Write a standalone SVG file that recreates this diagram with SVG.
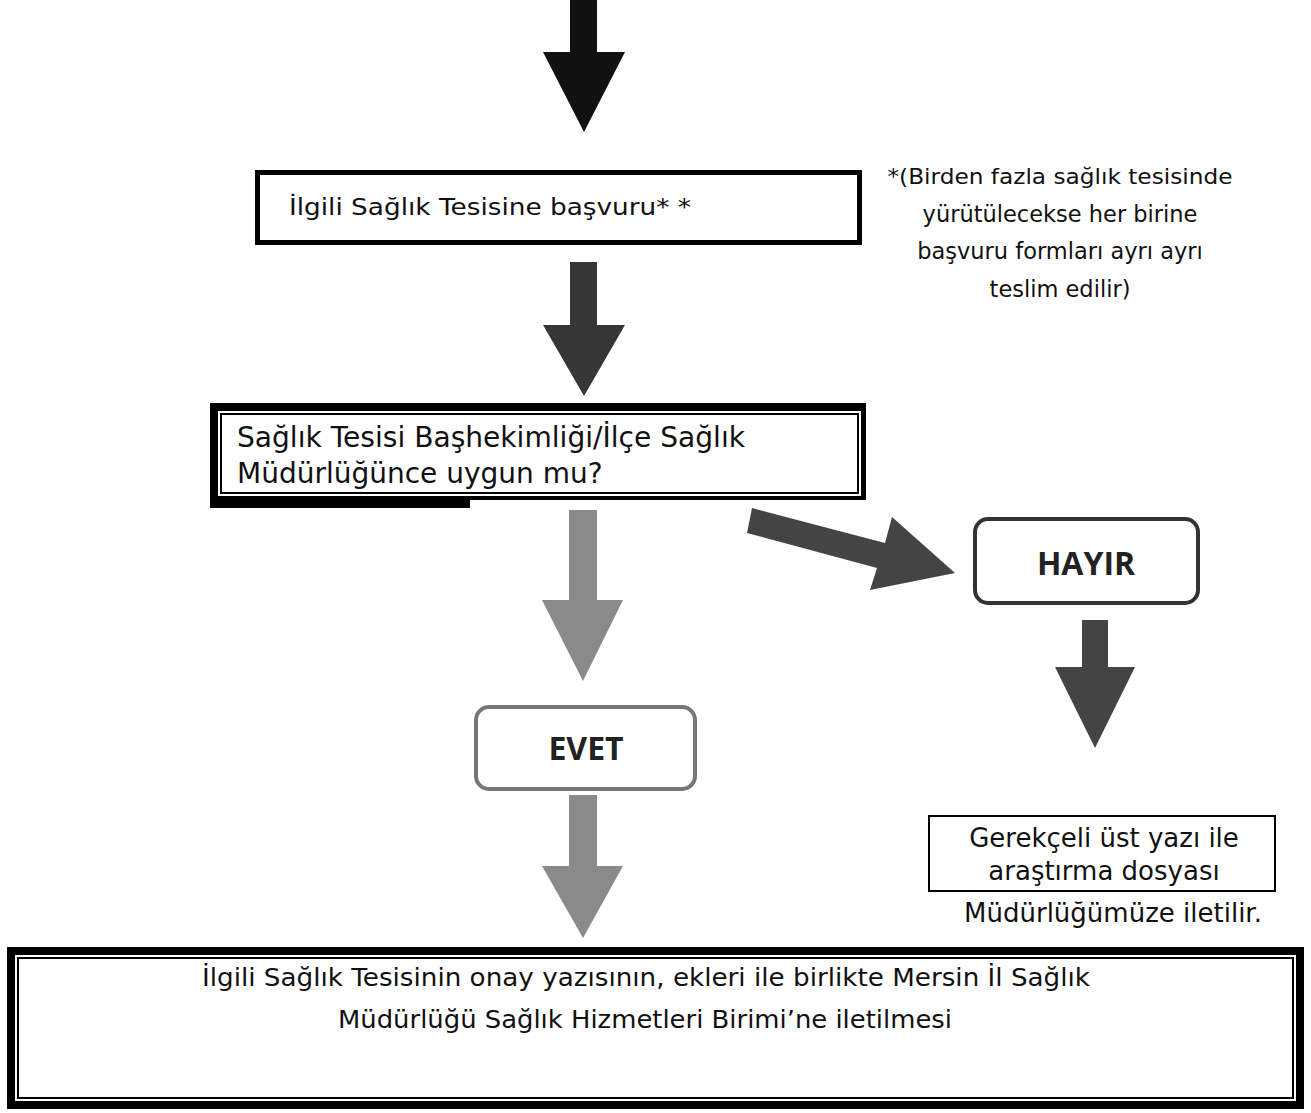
<svg xmlns="http://www.w3.org/2000/svg" width="1311" height="1113" viewBox="0 0 1311 1113">
<style>
.t{font-family:"DejaVu Sans","Liberation Sans",sans-serif;fill:#111}
.b{font-family:"Open Sans","Liberation Sans",sans-serif;font-size:32px;font-weight:bold;fill:#222;text-anchor:middle}
.m{text-anchor:middle}
</style>
<rect width="1311" height="1113" fill="#fff"/>
<g id="connectors">
<polygon points="570,0 597,0 597,52 625,52 584,132 543,52 570,52" fill="#111"/>
<polygon points="570,262 597,262 597,325 625,325 584,396 543,325 570,325" fill="#363636"/>
<polygon points="569,510 597,510 597,600 623,600 583,681 542,600 569,600" fill="#8a8a8a"/>
<polygon points="752,508 885,543 892,517 955,573 870,590 877,568 747,533" fill="#444"/>
<polygon points="1082,620 1108,620 1108,667 1135,667 1095,748 1055,667 1082,667" fill="#444"/>
<polygon points="569,795 597,795 597,866 623,866 583,938 542,866 569,866" fill="#8a8a8a"/>
</g>
<g id="node-basvuru">
<rect x="257.5" y="172.5" width="602" height="70" fill="#fff" stroke="#000" stroke-width="5"/>
<text class="t" x="289" y="215" font-size="23" textLength="402" lengthAdjust="spacingAndGlyphs">İlgili Sağlık Tesisine başvuru* *</text>
</g>
<g id="note">
<text class="t m" x="1060" y="184" font-size="22" textLength="345" lengthAdjust="spacingAndGlyphs">*(Birden fazla sağlık tesisinde</text>
<text class="t m" x="1060" y="222" font-size="22.5">yürütülecekse her birine</text>
<text class="t m" x="1060" y="259" font-size="22.5">başvuru formları ayrı ayrı</text>
<text class="t m" x="1060" y="297" font-size="22.5">teslim edilir)</text>
</g>
<g id="node-uygun">
<rect x="210" y="403" width="656" height="97" fill="#000"/>
<rect x="218" y="411" width="643" height="85" fill="#fff"/>
<rect x="221" y="414" width="637" height="79" fill="none" stroke="#000" stroke-width="2"/>
<rect x="210" y="500" width="260" height="8" fill="#000"/>
<text class="t" x="237" y="447" font-size="28" textLength="508" lengthAdjust="spacingAndGlyphs">Sağlık Tesisi Başhekimliği/İlçe Sağlık</text>
<text class="t" x="237" y="483" font-size="28">Müdürlüğünce uygun mu?</text>
</g>
<g id="node-hayir">
<rect x="975" y="519" width="223" height="84" rx="13" fill="#fff" stroke="#333" stroke-width="4"/>
<text class="b" x="1086" y="575">HAYIR</text>
</g>
<g id="node-evet">
<rect x="476" y="707" width="219" height="82" rx="13" fill="#fff" stroke="#777" stroke-width="4"/>
<text class="b" x="586" y="760">EVET</text>
</g>
<g id="node-gerekceli">
<rect x="929" y="816" width="346" height="75" fill="#fff" stroke="#000" stroke-width="2"/>
<text class="t m" x="1104" y="847" font-size="26">Gerekçeli üst yazı ile</text>
<text class="t m" x="1104" y="880" font-size="26">araştırma dosyası</text>
<text class="t m" x="1113" y="922" font-size="26">Müdürlüğümüze iletilir.</text>
</g>
<g id="node-iletim">
<rect x="7" y="947" width="1297" height="162" fill="#000"/>
<rect x="15" y="955" width="1281" height="146" fill="#fff"/>
<rect x="18" y="958" width="1275" height="140" fill="none" stroke="#000" stroke-width="2"/>
<text class="t m" x="646" y="986" font-size="24" textLength="888" lengthAdjust="spacingAndGlyphs">İlgili Sağlık Tesisinin onay yazısının, ekleri ile birlikte Mersin İl Sağlık</text>
<text class="t m" x="645" y="1028" font-size="24" textLength="614" lengthAdjust="spacingAndGlyphs">Müdürlüğü Sağlık Hizmetleri Birimi’ne iletilmesi</text>
</g>
</svg>
